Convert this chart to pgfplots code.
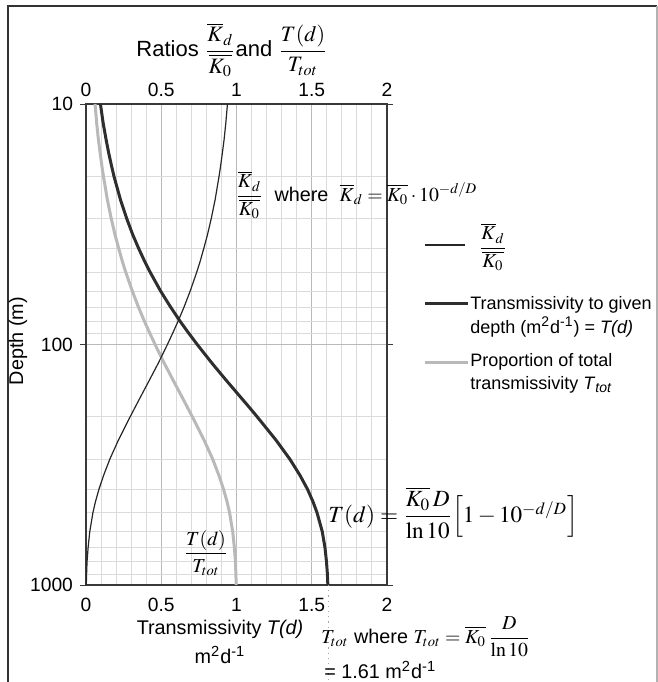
\documentclass[border=0pt]{standalone}
\usepackage{amsmath}
\usepackage{mathptmx}
\usepackage[no-math]{fontspec}
\setmainfont{Liberation Sans}
\usepackage{pgfplots}
\usepackage{pgfplotstable}
\pgfplotsset{compat=1.18}

\newcommand\fs{\fontsize{9.6pt}{11pt}\selectfont}
\newcommand\fl{\fontsize{9.9pt}{12pt}\selectfont}
\newcommand\fg{\fontsize{9pt}{11pt}\selectfont}

% depth (m), K_d/K_0, T(d)/T_tot, T(d) (m2/d)
\pgfplotstableread{
d     ratio  prop   trans
10    0.940  0.060  0.096
12    0.929  0.071  0.114
14    0.918  0.082  0.133
16    0.906  0.094  0.151
18    0.895  0.105  0.169
20    0.884  0.116  0.186
25    0.858  0.142  0.229
30    0.832  0.168  0.271
35    0.807  0.193  0.311
40    0.782  0.218  0.351
45    0.759  0.241  0.389
50    0.736  0.264  0.426
60    0.692  0.308  0.496
70    0.651  0.349  0.563
80    0.612  0.388  0.625
90    0.575  0.425  0.684
100   0.541  0.459  0.739
120   0.479  0.521  0.839
140   0.423  0.577  0.928
160   0.374  0.626  1.007
180   0.331  0.669  1.077
200   0.293  0.707  1.138
250   0.215  0.785  1.263
300   0.158  0.842  1.355
350   0.117  0.883  1.422
400   0.086  0.914  1.472
450   0.063  0.937  1.508
500   0.046  0.954  1.535
600   0.025  0.975  1.570
700   0.014  0.986  1.588
800   0.007  0.993  1.598
900   0.004  0.996  1.604
1000  0.002  0.998  1.607
}\curves

\begin{document}
\begin{tikzpicture}
\useasboundingbox (-43pt,-48.5pt) rectangle (286pt,292.5pt);
% outer frame
\draw[gray!40!black, line width=1pt] (-39pt,-48.5pt) -- (-39pt,289.5pt) -- (285.4pt,289.5pt);
\draw[gray!60, line width=0.8pt] (285.4pt,289.5pt) -- (285.4pt,-48.5pt);

\begin{axis}[
    at={(0pt,0pt)}, anchor=south west,
    scale only axis,
    width=150.5pt, height=240.5pt,
    xmin=0, xmax=2,
    ymode=log, ymin=10, ymax=1000,
    y dir=reverse,
    xtick={0,0.5,1,1.5,2},
    xticklabels={0,0.5,1,1.5,2},
    minor x tick num=4,
    ytick={10,100,1000},
    yticklabels={10,100,1000},
    grid=both,
    major grid style={gray!55, line width=0.5pt},
    minor grid style={gray!28, line width=0.5pt},
    axis line style={gray!45!black, line width=0.6pt},
    tick align=outside,
    major tick length=3pt,
    minor tick length=0pt,
    x tick style={draw=none},
    y tick style={gray!45!black},
    ticklabel style={font=\fs},
    clip=false,
]
\addplot[gray!55, line width=1.5pt] table[x=prop, y=d] {\curves};
\addplot[black!82, line width=1.5pt] table[x=trans, y=d] {\curves};
\addplot[black!85, line width=0.6pt] table[x=ratio, y=d] {\curves};
\draw[gray!70, dotted, line width=0.6pt] (axis cs:1.61,1000) -- ++(0,-19pt);
\end{axis}

% top tick labels
\begin{axis}[
    at={(0pt,0pt)}, anchor=south west,
    scale only axis,
    width=150.5pt, height=240.5pt,
    xmin=0, xmax=2,
    ymin=0, ymax=1,
    xtick={0,0.5,1,1.5,2},
    xticklabels={0,0.5,1,1.5,2},
    xticklabel pos=upper,
    ytick=\empty,
    axis line style={draw=none},
    major tick length=0pt,
    ticklabel style={font=\fs},
]
\end{axis}

% axis titles
\node[font=\fontsize{11pt}{13pt}\selectfont] at (73pt,267.5pt)
  {Ratios $\dfrac{\overline{K}_d}{\overline{K_0}}$and $\dfrac{T(d)}{T_{tot}}$};
\node[rotate=90, font=\fl] at (-34pt,122pt) {Depth (m)};
\node[font=\fl] at (67pt,-22pt) {Transmissivity \textit{T(d)}};
\node[font=\fl] at (67pt,-35pt) {m\textsuperscript{2}d\textsuperscript{-1}};

% annotations
\node[anchor=west, inner sep=0, font=\fl] at (74.5pt,195pt)
  {$\dfrac{\overline{K}_d}{\overline{K_0}}$\ \ where\ \ $\overline{K}_d=\overline{K_0}\cdot 10^{-d/D}$};
\node[inner sep=0, font=\fl] at (60pt,16pt) {$\dfrac{T(d)}{T_{tot}}$};
\node[anchor=west, inner sep=0, font=\fontsize{11.6pt}{14pt}\selectfont] at (121pt,36pt)
  {$T(d)=\dfrac{\overline{K_0}\,D}{\ln 10}\Bigl[1-10^{-d/D}\Bigr]$};
\node[anchor=west, inner sep=0, font=\fl] at (117.5pt,-26pt)
  {$T_{tot}$ where\ $T_{tot}=\overline{K_0}\,\dfrac{D}{\ln 10}$};
\node[anchor=west, inner sep=0, font=\fl] at (119pt,-42.5pt)
  {= 1.61 m\textsuperscript{2}d\textsuperscript{-1}};

% legend
\draw[black!85, line width=0.6pt] (169.5pt,170pt) -- (189.5pt,170pt);
\node[inner sep=0, font=\fl] at (203.5pt,169pt) {$\dfrac{\overline{K}_d}{\overline{K_0}}$};
\draw[black!82, line width=1.5pt] (169.5pt,141pt) -- (191pt,141pt);
\node[anchor=west, inner sep=0, font=\fg] at (192pt,140pt) {Transmissivity to given};
\node[anchor=west, inner sep=0, font=\fg] at (192pt,129pt) {depth (m\textsuperscript{2}d\textsuperscript{-1}) = \textit{T(d)}};
\draw[gray!55, line width=1.5pt] (169.5pt,111.5pt) -- (191pt,111.5pt);
\node[anchor=west, inner sep=0, font=\fg] at (192pt,111.5pt) {Proportion of total};
\node[anchor=west, inner sep=0, font=\fg] at (192pt,100pt) {transmissivity \textit{T}\textsubscript{\textit{tot}}};
\end{tikzpicture}
\end{document}
